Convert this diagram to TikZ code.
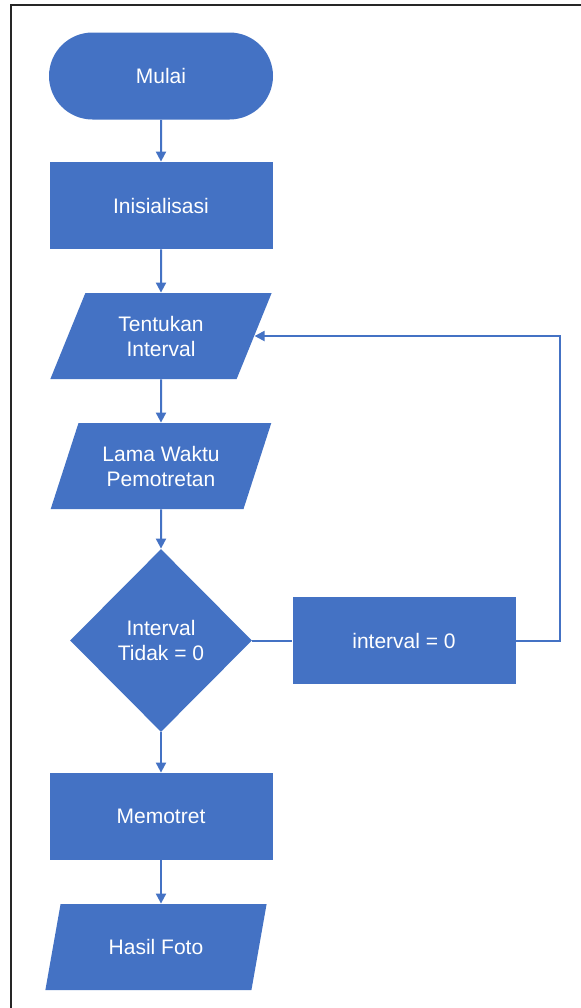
\documentclass[tikz,border=0pt]{standalone}
\usepackage{fontspec}
\setmainfont{Liberation Sans}
\usetikzlibrary{shapes.geometric,shapes.misc,arrows.meta}
\definecolor{flowblue}{HTML}{4472C4}
\tikzset{
  base/.style={fill=flowblue, text=white, font=\fontsize{10.5}{12.5}\selectfont, align=center, inner sep=0pt},
  startstop/.style={base, rounded rectangle, minimum width=112pt, minimum height=43.5pt},
  process/.style={base, rectangle, minimum width=111.5pt, minimum height=43.5pt},
  io/.style={base, trapezium, trapezium left angle=64, trapezium right angle=116, trapezium stretches=true, minimum width=111pt, minimum height=43pt},
  decision/.style={base, diamond, minimum width=91pt, minimum height=91.5pt},
  arr/.style={flowblue, line width=1pt, -{Triangle[width=5pt,length=5pt]}},
  link/.style={flowblue, line width=1pt}
}

\begin{document}
\begin{tikzpicture}[x=0.5pt,y=-0.5pt]
    \useasboundingbox (0,0) rectangle (581,1008);
    \fill[white] (0,0) rectangle (581,1008);
    \draw[black!85, line width=1pt] (11,1008) -- (11,5) -- (581,5);
    \node[startstop] (mulai) at (161,76) {Mulai};
    \node[process] (init) at (161,205.5) {Inisialisasi};
    \node[io] (tentukan) at (161,336) {Tentukan\\Interval};
    \node[io] (lama) at (161,466) {Lama Waktu\\Pemotretan};
    \node[decision] (cek) at (161,640.5) {Interval\\Tidak = 0};
    \node[process] (nol) at (404,640.5) {interval = 0};
    \node[process] (potret) at (161,816.5) {Memotret};
    \node[io] (hasil) at (156,947) {Hasil Foto};
    \coordinate (balik) at (560,640.5);
    \draw[arr] (mulai) -- (init);
    \draw[arr] (init) -- (tentukan);
    \draw[arr] (tentukan) -- (lama);
    \draw[arr] (lama) -- (cek);
    \draw[link] (cek) -- (nol);
    \draw[arr] (nol.east) -- (balik) |- (tentukan);
    \draw[arr] (cek) -- (potret);
    \draw[arr] (potret.south) -- (potret.south |- hasil.north);
  \end{tikzpicture}
\end{document}
